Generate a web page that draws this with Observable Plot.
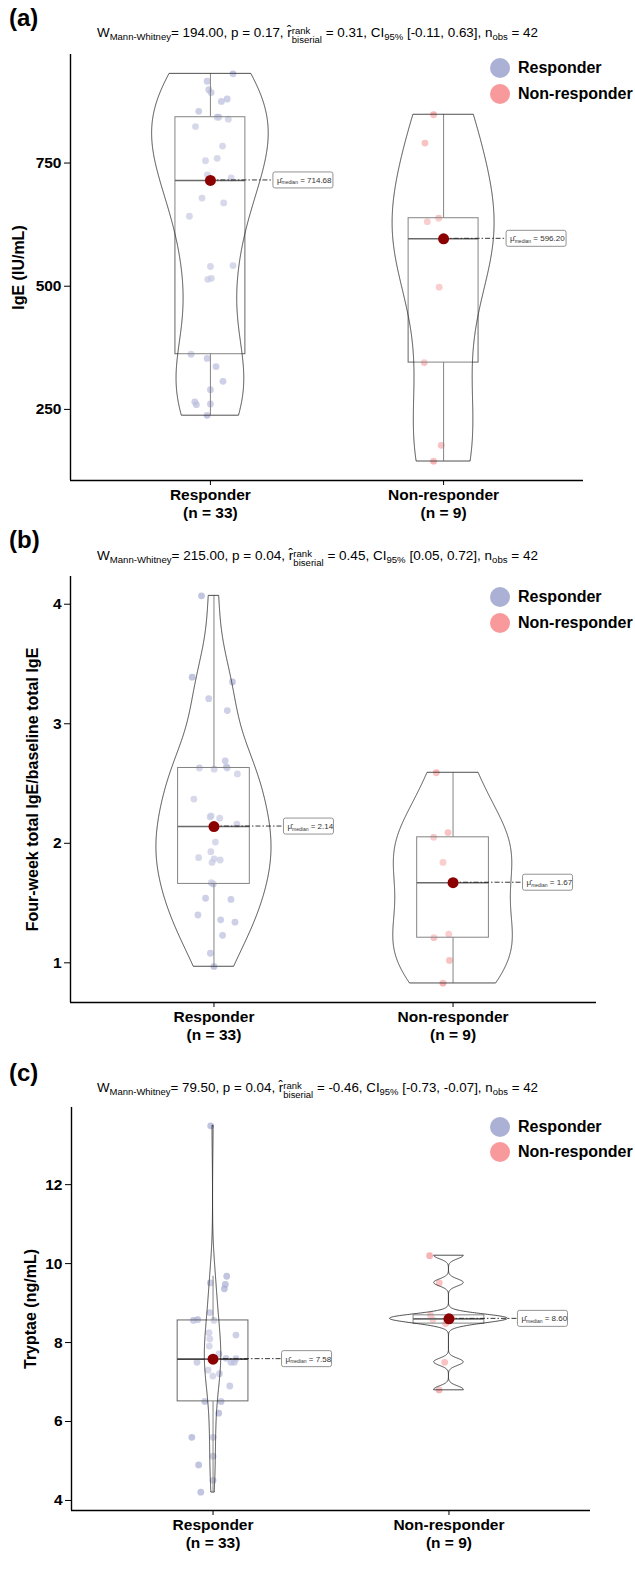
<!DOCTYPE html>
<html><head><meta charset="utf-8">
<script src="https://cdn.jsdelivr.net/npm/d3@7"></script>
<script src="https://cdn.jsdelivr.net/npm/@observablehq/plot@0.6"></script>
<style>
body{margin:0;background:#fff;font-family:"Liberation Sans",Arial,sans-serif;color:#000;}
#chart{position:relative;width:635px;height:1583px;overflow:hidden;}
.panel{position:absolute;left:0;width:635px;}
.panel svg{display:block;}
.panel svg g[aria-label^="y-axis"] text{font-size:15.5px;font-weight:bold;fill:#000;}
.tag{position:absolute;left:9px;font-weight:bold;font-size:24px;line-height:1;transform:translateY(-50%);}
.sub{position:absolute;white-space:nowrap;font-size:12px;line-height:1;transform-origin:left center;}
.sub sub{font-size:8.5px;vertical-align:-3px;}
.ss{display:inline-block;vertical-align:-6px;font-size:8.5px;line-height:9px;text-align:left;}
.ss span{display:block;}
.leg{position:absolute;left:490px;display:flex;align-items:center;font-weight:bold;font-size:16px;transform:translateY(-50%);}
.leg i{display:inline-block;width:20px;height:20px;border-radius:50%;margin-right:8px;}
</style></head>
<body><div id="chart"></div>
<script>
// ---------- data ----------
const groups = ["Responder", "Non-responder"];
const groupN = [33, 9];
const panelTags = ["(a)", "(b)", "(c)"];
const yTitles = ["IgE (IU/mL)", "Four-week total IgE/baseline total IgE", "Tryptae (ng/mL)"];
const yTicks = [[250, 500, 750], [1, 2, 3, 4], [4, 6, 8, 10, 12]];
// test statistics (subtitle)
const statW = ["194.00", "215.00", "79.50"];
const statP = ["0.17", "0.04", "0.04"];
const statR = ["0.31", "0.45", "-0.46"];
const statCI = ["[-0.11, 0.63]", "[0.05, 0.72]", "[-0.73, -0.07]"];
const statN = ["42", "42", "42"];

// (a) IgE
const igeResponder = [931,916,899,893,880,875,855,843,843,839,824,784.5,759.5,754.7,726,719.6,714.68,679,669,642,542,540,516,514,362,353.5,337,307,290,265,261,259.5,238];
const igeResponderJitter = [0.097,-0.014,-0.007,0.003,0.072,0.047,-0.050,0.029,0.036,0.077,-0.064,0.052,0.029,-0.021,-0.013,0.089,0,-0.036,0.057,-0.090,0.097,0,0.004,-0.011,-0.083,-0.014,0.024,0.054,0,-0.067,0,-0.060,-0.014];
const igeNonResponder = [848,790.6,638,631,596.2,498,345,177,145];
const igeNonResponderJitter = [-0.043,-0.080,-0.021,-0.070,0,-0.019,-0.083,-0.010,-0.043];

// (b) four-week / baseline total IgE
const ratioResponder = [4.07,3.39,3.35,3.21,3.11,2.69,2.64,2.63,2.63,2.62,2.58,2.37,2.23,2.22,2.21,2.16,2.14,2.01,1.93,1.88,1.87,1.86,1.84,1.67,1.66,1.54,1.53,1.40,1.36,1.34,1.23,1.08,0.97];
const ratioResponderJitter = [-0.052,-0.091,0.077,-0.022,0.056,0.047,0.052,0.055,-0.061,0.001,0.098,-0.084,-0.012,-0.016,0.024,0.096,0,0.006,-0.013,-0.064,0.001,0.026,-0.008,-0.011,-0.003,-0.035,0.071,-0.067,0.028,0.088,0.036,-0.015,0];
const ratioNonResponder = [2.59,2.09,2.05,1.84,1.67,1.24,1.21,1.02,0.83];
const ratioNonResponderJitter = [-0.070,-0.021,-0.081,-0.042,0,-0.018,-0.080,-0.015,-0.042];

// (c) tryptase
const tryResponder = [13.49,9.68,9.51,9.47,9.36,8.76,8.58,8.56,8.56,8.25,8.19,8.09,7.91,7.71,7.60,7.59,7.58,7.50,7.50,7.50,7.30,7.21,7.15,6.90,6.51,6.51,6.21,5.60,5.60,5.12,4.90,4.51,4.21];
const tryResponderJitter = [-0.010,0.058,-0.011,0.052,0.048,-0.013,-0.065,-0.083,0.004,-0.017,0.097,-0.014,-0.016,0.025,0.055,0.097,0,0.076,0.090,-0.068,-0.021,0.027,-0.001,0.071,-0.035,0.034,0.024,-0.090,0,0,-0.061,0,-0.052];
const tryNonResponder = [10.20,9.51,8.69,8.62,8.60,8.58,8.48,7.50,6.80];
const tryNonResponderJitter = [-0.082,-0.041,-0.078,0.012,0,-0.068,-0.014,-0.018,-0.042];

// ---------- styling / layout ----------
const pointColors = ["#a9afd4", "#f59597"];
const legendColors = ["#abb1d4", "#f89a9c"];
const layout = [
  {top: 0, height: 525, mt: 54, mb: 45, ml: 70, mr: 52, titleDx: -51.5, labelDx: 63, tagY: 18, subY: 33, legY: [68, 94]},
  {top: 525, height: 530, mt: 51, mb: 53, ml: 70, mr: 39, titleDx: -38, labelDx: 70, tagY: 15, subY: 31, legY: [72, 98]},
  {top: 1055, height: 528, mt: 52, mb: 73, ml: 71, mr: 45, titleDx: -41, labelDx: 69, tagY: 18, subY: 33, legY: [72, 97]}
];
const panelsData = [
  [[igeResponder, igeResponderJitter], [igeNonResponder, igeNonResponderJitter]],
  [[ratioResponder, ratioResponderJitter], [ratioNonResponder, ratioNonResponderJitter]],
  [[tryResponder, tryResponderJitter], [tryNonResponder, tryNonResponderJitter]]
];

// ---------- statistics (as ggplot computes them) ----------
function nrd0(v) {
  const s = d3.deviation(v);
  const iqr = d3.quantile(v, 0.75) - d3.quantile(v, 0.25);
  let lo = Math.min(s, iqr / 1.34);
  if (!(lo > 0)) lo = s || 1;
  return 0.9 * lo * Math.pow(v.length, -0.2);
}
function kde(v) {
  const bw = nrd0(v);
  const [mn, mx] = d3.extent(v);
  const out = [];
  for (let i = 0; i < 512; i++) {
    const y = mn + (mx - mn) * i / 511;
    let d = 0;
    for (const x of v) { const z = (y - x) / bw; d += Math.exp(-0.5 * z * z); }
    out.push({y, d: d / (v.length * bw * Math.sqrt(2 * Math.PI))});
  }
  return out;
}
function boxStats(v, pos) {
  const q1 = d3.quantile(v, 0.25), q3 = d3.quantile(v, 0.75), med = d3.median(v);
  const iqr = q3 - q1;
  const hi = d3.max(v.filter(x => x <= q3 + 1.5 * iqr));
  const lo = d3.min(v.filter(x => x >= q1 - 1.5 * iqr));
  return {pos, q1, q3, median: med, hi, lo};
}

function medianLabels(stats, offsetPx) {
  return (index, scales) => {
    const g = d3.create("svg:g");
    stats.forEach(s => {
      const x0 = scales.x(s.pos), y0 = scales.y(s.median);
      const txt = d3.format(".2f")(s.median);
      const w = 30 + 5 * txt.length, h = 16;
      const lx = x0 + offsetPx;
      g.append("line").attr("x1", x0).attr("x2", lx).attr("y1", y0).attr("y2", y0)
        .attr("stroke", "#222").attr("stroke-width", 0.9).attr("stroke-dasharray", "5,2,1.5,2");
      g.append("rect").attr("x", lx).attr("y", y0 - h / 2).attr("width", w).attr("height", h)
        .attr("rx", 2).attr("fill", "white").attr("stroke", "#777").attr("stroke-width", 0.8);
      const t = g.append("text").attr("x", lx + 4).attr("y", y0 + 3)
        .attr("text-anchor", "start")
        .attr("font-size", 8).attr("font-weight", "normal").attr("fill", "#333")
        .attr("font-family", "Liberation Sans, Arial, sans-serif");
      t.append("tspan").text("\u03bc\u0302");
      t.append("tspan").attr("font-size", 5).attr("dy", 1.5).text("median");
      t.append("tspan").attr("dy", -1.5).text(" = " + txt);
    });
    return g.node();
  };
}

const chart = document.getElementById("chart");

panelsData.forEach((pd, pi) => {
  const L = layout[pi];
  const all = pd.flatMap(d => d[0]);
  const [mn, mx] = d3.extent(all);
  const ext = (mx - mn) * 0.05;
  const yDomain = [mn - ext, mx + ext];

  const points = pd.flatMap(([vals, jit], gi) => vals.map((v, i) => ({g: gi, x: gi + 1 + jit[i], y: v})));
  const dens = pd.map(([vals]) => kde(vals));
  const maxD = d3.max(dens.flat(), d => d.d);
  const violin = dens.flatMap((rows, gi) => rows.map(r => ({g: gi, y: r.y, xl: gi + 1 - r.d / maxD * 0.25, xr: gi + 1 + r.d / maxD * 0.25})));
  const boxes = pd.map(([vals], gi) => boxStats(vals, gi + 1));

  const svg = Plot.plot({
    width: 635,
    height: L.height,
    marginTop: L.mt, marginBottom: L.mb, marginLeft: L.ml, marginRight: L.mr,
    style: {fontFamily: "Liberation Sans, Arial, sans-serif", fontSize: "15.5px", fontWeight: "bold", color: "#000", background: "transparent", overflow: "visible"},
    x: {domain: [0.4, 2.6], ticks: [1, 2], tickFormat: () => "", tickSize: 5, label: null},
    y: {domain: yDomain, ticks: yTicks[pi], tickFormat: d => String(d), tickSize: 6, tickPadding: 3, label: null},
    marks: [
      Plot.dot(points, {x: "x", y: "y", r: 3.4, fill: d => pointColors[d.g], fillOpacity: 0.72, stroke: "none"}),
      Plot.ruleX(boxes, {x: "pos", y1: "q3", y2: "hi", stroke: "#666", strokeWidth: 1}),
      Plot.ruleX(boxes, {x: "pos", y1: "q1", y2: "lo", stroke: "#666", strokeWidth: 1}),
      Plot.rect(boxes, {x1: d => d.pos - 0.15, x2: d => d.pos + 0.15, y1: "q1", y2: "q3", fill: "white", fillOpacity: 0.2, stroke: "#666", strokeWidth: 1}),
      Plot.ruleY(boxes, {y: "median", x1: d => d.pos - 0.15, x2: d => d.pos + 0.15, stroke: "#444", strokeWidth: 1.6}),
      Plot.areaX(violin, {y: "y", x1: "xl", x2: "xr", z: "g", fill: "white", fillOpacity: 0.2, stroke: "#222", strokeWidth: 0.8}),
      medianLabels(boxes, L.labelDx),
      Plot.dot(boxes, {x: "pos", y: "median", r: 5.5, fill: "#8b0000"}),
      Plot.ruleX([0.4], {stroke: "#000", strokeWidth: 1.4}),
      Plot.ruleY([yDomain[0]], {stroke: "#000", strokeWidth: 1.4}),
      Plot.text(groups, {x: (d, i) => i + 1, text: (d, i) => `${d}\n(n = ${groupN[i]})`, frameAnchor: "bottom", lineAnchor: "top", dy: 7, fontSize: 15.5, fontWeight: "bold", lineHeight: 1.15, fill: "#000"}),
      Plot.text([yTitles[pi]], {text: d => d, frameAnchor: "left", textAnchor: "middle", dx: L.titleDx, rotate: -90, fontSize: 16, fontWeight: "bold", fill: "#000"})
    ]
  });

  const panel = document.createElement("div");
  panel.className = "panel";
  panel.style.top = L.top + "px";
  panel.style.height = L.height + "px";
  panel.appendChild(svg);

  const tag = document.createElement("div");
  tag.className = "tag";
  tag.style.top = L.tagY + "px";
  tag.textContent = panelTags[pi];
  panel.appendChild(tag);

  const sub = document.createElement("div");
  sub.className = "sub";
  sub.innerHTML = `W<sub>Mann-Whitney</sub>= ${statW[pi]}, p = ${statP[pi]}, r\u0302<span class="ss"><span>rank</span><span>biserial</span></span> = ${statR[pi]}, CI<sub>95%</sub> ${statCI[pi]}, n<sub>obs</sub> = ${statN[pi]}`;
  panel.appendChild(sub);

  groups.forEach((gname, gi) => {
    const lg = document.createElement("div");
    lg.className = "leg";
    lg.style.top = L.legY[gi] + "px";
    lg.innerHTML = `<i style="background:${legendColors[gi]}"></i>${gname}`;
    panel.appendChild(lg);
  });

  chart.appendChild(panel);

  const w = sub.getBoundingClientRect().width;
  const target = 441;
  sub.style.left = (317 - target / 2) + "px";
  sub.style.top = (L.subY - 6) + "px";
  sub.style.transform = `scaleX(${target / w})`;
});
</script>
</body></html>
